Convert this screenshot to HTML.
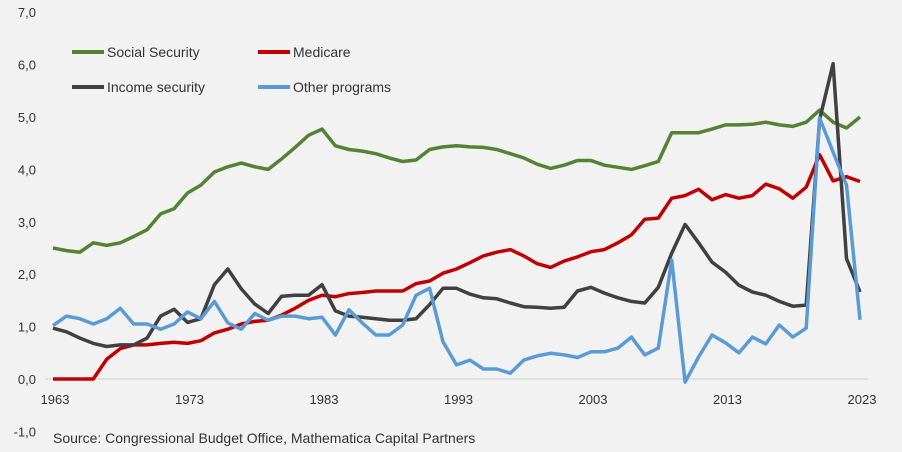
<!DOCTYPE html>
<html><head><meta charset="utf-8"><style>
body{margin:0;background:#f2f2f2;}
svg{display:block;font-family:"Liberation Sans",sans-serif;}
</style></head><body>
<svg id="chart" width="902" height="452">
<rect width="902" height="452" fill="#f2f2f2"/>
<g id="axes"></g><g id="series"></g>
<g font-size="14" fill="#333">
<line x1="72" y1="52" x2="104" y2="52" stroke="#548235" stroke-width="4"/>
<text x="107" y="57">Social Security</text>
<line x1="258" y1="52" x2="290" y2="52" stroke="#c00000" stroke-width="4"/>
<text x="293" y="57">Medicare</text>
<line x1="72" y1="87" x2="104" y2="87" stroke="#404040" stroke-width="4"/>
<text x="107" y="92">Income security</text>
<line x1="258" y1="87" x2="290" y2="87" stroke="#5b9bd5" stroke-width="4"/>
<text x="293" y="92">Other programs</text>
</g>
<text x="53" y="443" font-size="14" fill="#333">Source: Congressional Budget Office, Mathematica Capital Partners</text>
</svg>
<script>
const startYear = 1963;
const yTicks = [-1,0,1,2,3,4,5,6,7];
const yTickLabels = ["-1,0","0,0","1,0","2,0","3,0","4,0","5,0","6,0","7,0"];
const xTickYears = [1963,1973,1983,1993,2003,2013,2023];
const socialSecurity = [2.5,2.45,2.42,2.6,2.55,2.6,2.72,2.85,3.15,3.25,3.55,3.7,3.95,4.05,4.12,4.05,4.0,4.2,4.42,4.65,4.77,4.45,4.38,4.35,4.3,4.22,4.15,4.18,4.38,4.43,4.45,4.43,4.42,4.38,4.3,4.22,4.1,4.02,4.08,4.17,4.17,4.08,4.04,4.0,4.07,4.15,4.7,4.7,4.7,4.77,4.85,4.85,4.86,4.9,4.85,4.82,4.9,5.13,4.9,4.79,5.0];
const medicare = [0,0,0,0,0.38,0.58,0.65,0.65,0.68,0.7,0.68,0.73,0.88,0.95,1.05,1.1,1.12,1.22,1.35,1.5,1.6,1.57,1.63,1.65,1.68,1.68,1.68,1.82,1.87,2.02,2.1,2.22,2.35,2.42,2.47,2.35,2.2,2.13,2.25,2.33,2.43,2.47,2.6,2.75,3.05,3.07,3.45,3.5,3.62,3.42,3.52,3.45,3.5,3.72,3.63,3.45,3.66,4.28,3.78,3.86,3.77];
const incomeSecurity = [0.97,0.9,0.78,0.68,0.62,0.65,0.65,0.78,1.2,1.33,1.08,1.15,1.8,2.1,1.72,1.43,1.25,1.58,1.6,1.6,1.8,1.3,1.2,1.18,1.15,1.12,1.12,1.15,1.42,1.73,1.73,1.62,1.55,1.53,1.45,1.38,1.37,1.35,1.37,1.68,1.75,1.64,1.55,1.48,1.45,1.75,2.4,2.95,2.6,2.23,2.04,1.79,1.66,1.6,1.48,1.39,1.41,4.95,6.02,2.3,1.66];
const otherPrograms = [1.02,1.2,1.15,1.05,1.15,1.35,1.05,1.05,0.95,1.05,1.28,1.15,1.48,1.07,0.95,1.25,1.12,1.2,1.2,1.15,1.18,0.84,1.32,1.07,0.84,0.84,1.03,1.6,1.73,0.71,0.27,0.36,0.19,0.19,0.11,0.36,0.44,0.49,0.46,0.41,0.52,0.52,0.59,0.8,0.46,0.59,2.27,-0.06,0.42,0.84,0.69,0.5,0.8,0.67,1.03,0.8,0.97,4.98,4.33,3.7,1.13];

const X0=53, XS=13.45, Y0=379, YS=52.4;
const xs = i => X0 + i*XS;
const ys = v => Y0 - v*YS;
const NS="http://www.w3.org/2000/svg";
const axes=document.getElementById('axes'), ser=document.getElementById('series');

const base=document.createElementNS(NS,'line');
base.setAttribute('x1',X0-8);base.setAttribute('x2',xs(60)+8);
base.setAttribute('y1',ys(0));base.setAttribute('y2',ys(0));
base.setAttribute('stroke','#d0d0d0');base.setAttribute('stroke-width','1');


axes.appendChild(base);

yTicks.forEach((v,k)=>{
  const t=document.createElementNS(NS,'text');
  t.setAttribute('x',36);t.setAttribute('y',ys(v)+5);
  t.setAttribute('text-anchor','end');t.setAttribute('font-size','13');t.setAttribute('fill','#333');
  t.textContent=yTickLabels[k];
  
  
  axes.appendChild(t);
});
xTickYears.forEach(y=>{
  const t=document.createElementNS(NS,'text');
  t.setAttribute('x',xs(y-startYear)+2);t.setAttribute('y',404);
  t.setAttribute('text-anchor','middle');t.setAttribute('font-size','13');t.setAttribute('fill','#333');
  t.textContent=y;
  
  
  axes.appendChild(t);
});

function drawLine(data,color,name){
  const p=document.createElementNS(NS,'polyline');
  p.setAttribute('points',data.map((v,i)=>xs(i).toFixed(1)+','+ys(v).toFixed(1)).join(' '));
  p.setAttribute('fill','none');p.setAttribute('stroke',color);p.setAttribute('stroke-width','3.5');
  p.setAttribute('stroke-linejoin','round');
  
  
  ser.appendChild(p);
}
drawLine(socialSecurity,'#548235','social-security-line');
drawLine(medicare,'#c00000','medicare-line');
drawLine(incomeSecurity,'#404040','income-security-line');
drawLine(otherPrograms,'#5b9bd5','other-programs-line');
</script>
</body></html>
